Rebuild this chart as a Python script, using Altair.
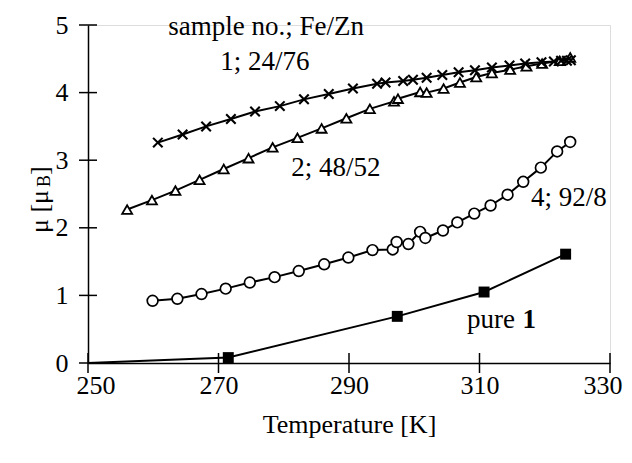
import altair as alt
import pandas as pd

# sample 1; Fe/Zn 24/76 (crosses)
t1 = [260.7, 264.5, 268.1, 271.9, 275.6, 279.4, 283.1, 286.9, 290.6, 294.3, 295.6, 298.3, 299.8,
      301.9, 304.3, 306.8, 309.3, 311.9, 314.6, 317.0, 319.5, 321.4, 322.5, 323.4, 324.0]
m1 = [3.26, 3.38, 3.50, 3.61, 3.72, 3.80, 3.90, 3.98, 4.06, 4.13, 4.15, 4.17, 4.19,
      4.22, 4.26, 4.30, 4.33, 4.37, 4.40, 4.43, 4.45, 4.46, 4.47, 4.47, 4.48]

# sample 2; Fe/Zn 48/52 (open triangles)
t2 = [256.0, 259.8, 263.4, 267.1, 270.8, 274.6, 278.3, 282.1, 285.8, 289.6, 293.2, 296.9, 297.5,
      300.9, 301.9, 304.5, 307.0, 309.5, 311.9, 314.7, 317.2, 319.6, 322.3, 323.9]
m2 = [2.27, 2.41, 2.55, 2.71, 2.87, 3.03, 3.19, 3.33, 3.47, 3.62, 3.76, 3.87, 3.91,
      4.01, 4.00, 4.06, 4.15, 4.23, 4.29, 4.34, 4.39, 4.43, 4.47, 4.52]

# sample 4; Fe/Zn 92/8 (open circles)
t4 = [259.9, 263.7, 267.4, 271.1, 274.8, 278.6, 282.3, 286.2, 289.9, 293.6, 296.7, 297.3, 299.1,
      300.9, 301.7, 304.4, 306.6, 309.2, 311.7, 314.3, 316.7, 319.4, 321.9, 323.9]
m4 = [0.92, 0.95, 1.02, 1.10, 1.19, 1.27, 1.36, 1.46, 1.56, 1.67, 1.68, 1.79, 1.76,
      1.94, 1.85, 1.96, 2.08, 2.21, 2.33, 2.49, 2.68, 2.89, 3.13, 3.27]

# pure 1 (filled squares)
t0 = [250.0, 271.5, 297.4, 310.7, 323.2]
m0 = [0.0, 0.08, 0.69, 1.05, 1.61]

x_ticks = [250, 270, 290, 310, 330]
y_ticks = [0, 1, 2, 3, 4, 5]

# annotation texts (data coordinates)
ann_text = ["sample no.; Fe/Zn", "1; 24/76", "2; 48/52", "4; 92/8"]
ann_T = [277.3, 277.1, 288.0, 323.7]
ann_mu = [4.97, 4.46, 2.88, 2.44]

FONT = "Liberation Serif"
FS = 26
FA = 27
W, H = 522, 338

xs = alt.Scale(domain=[250, 330], nice=False, zero=False)
ys = alt.Scale(domain=[0, 5], nice=False)
xaxis = alt.Axis(values=x_ticks, ticks=False, tickSize=0, grid=False, labelFont=FONT,
                 labelFontSize=FS, labelColor="black", labelPadding=9, labelFlush=True,
                 labelFlushOffset=12,
                 domainColor="black", domainWidth=1.5, title="Temperature [K]", titleFont=FONT,
                 titleFontSize=FS, titleFontWeight="normal", titleColor="black", titlePadding=13,
                 format="d")
yaxis = alt.Axis(values=y_ticks, ticks=False, tickSize=0, grid=False, labelFont=FONT,
                 labelFontSize=FS, labelColor="black", labelPadding=20, labelFlush=False,
                 domainColor="black", domainWidth=1.5, title=None, format="d")


def X(f="T"):
    return alt.X(f"{f}:Q", scale=xs, axis=xaxis)


def Y(f="mu"):
    return alt.Y(f"{f}:Q", scale=ys, axis=yaxis)


d1 = pd.DataFrame({"T": t1, "mu": m1})
d2 = pd.DataFrame({"T": t2, "mu": m2})
d4 = pd.DataFrame({"T": t4, "mu": m4})
d0 = pd.DataFrame({"T": t0, "mu": m0})
dann = pd.DataFrame({"T": ann_T, "mu": ann_mu, "txt": ann_text})
dxt = pd.DataFrame({"T": x_ticks})
dyt = pd.DataFrame({"mu": y_ticks})

layers = []
lw = 2.0
for d in (d0, d4, d2, d1):
    layers.append(alt.Chart(d).mark_line(color="black", strokeWidth=lw).encode(x=X(), y=Y()))

layers.append(alt.Chart(d0).transform_filter("datum.T > 250").mark_square(
    color="black", size=120, opacity=1).encode(x=X(), y=Y()))
layers.append(alt.Chart(d4).mark_point(shape="circle", filled=True, fill="white", stroke="black",
                                       strokeWidth=1.7, size=115, opacity=1).encode(x=X(), y=Y()))
layers.append(alt.Chart(d2).mark_point(shape="triangle-up", filled=True, fill="white", stroke="black",
                                       strokeWidth=1.8, size=100, opacity=1).encode(x=X(), y=Y()))
layers.append(alt.Chart(d1).mark_point(shape="M-1,-1L1,1M-1,1L1,-1", filled=False, color="black",
                                       strokeWidth=2.1, size=90, opacity=1).encode(x=X(), y=Y()))

# crossing ticks
layers.append(alt.Chart(dxt).mark_rule(color="black", strokeWidth=1.5).encode(
    x=X(), y=alt.value(H - 10), y2=alt.value(H + 10)))
layers.append(alt.Chart(dyt).mark_rule(color="black", strokeWidth=1.5).encode(
    y=Y(), x=alt.value(-9), x2=alt.value(9)))

# annotations
layers.append(alt.Chart(dann).mark_text(font=FONT, fontSize=FA, color="black", align="center",
                                        baseline="middle").encode(x=X(), y=Y(), text="txt:N"))

dpure = pd.DataFrame({"T": [308.1], "mu": [0.64], "txt": ["pure"]})
done = pd.DataFrame({"T": [316.6], "mu": [0.64], "txt": ["1"]})
layers.append(alt.Chart(dpure).mark_text(font=FONT, fontSize=FA, color="black", align="left",
                                         baseline="middle").encode(x=X(), y=Y(), text="txt:N"))
layers.append(alt.Chart(done).mark_text(font=FONT, fontSize=FA, fontWeight="bold", color="black",
                                        align="left", baseline="middle").encode(x=X(), y=Y(), text="txt:N"))

# y-axis title with subscript
dyt1 = pd.DataFrame({"txt": ["\u03bc [\u03bc"]})
dyt2 = pd.DataFrame({"txt": ["B"]})
dyt3 = pd.DataFrame({"txt": ["]"]})
layers.append(alt.Chart(dyt1).mark_text(font=FONT, fontSize=FS, color="black", angle=270,
                                        align="left", baseline="middle").encode(
    x=alt.value(-48), y=alt.value(208), text="txt:N"))
layers.append(alt.Chart(dyt2).mark_text(font=FONT, fontSize=18, color="black", angle=270,
                                        align="left", baseline="middle").encode(
    x=alt.value(-43), y=alt.value(162), text="txt:N"))
layers.append(alt.Chart(dyt3).mark_text(font=FONT, fontSize=FS, color="black", angle=270,
                                        align="left", baseline="middle").encode(
    x=alt.value(-48), y=alt.value(150), text="txt:N"))

chart = alt.layer(*layers).properties(
    width=W, height=H,
    autosize=alt.AutoSizeParams(type="none"),
    padding={"left": 80, "top": 17, "right": 14, "bottom": 92},
).configure_view(stroke=None).configure(background="white")

chart.save("out.html", embed_options={"renderer": "svg", "actions": False})
